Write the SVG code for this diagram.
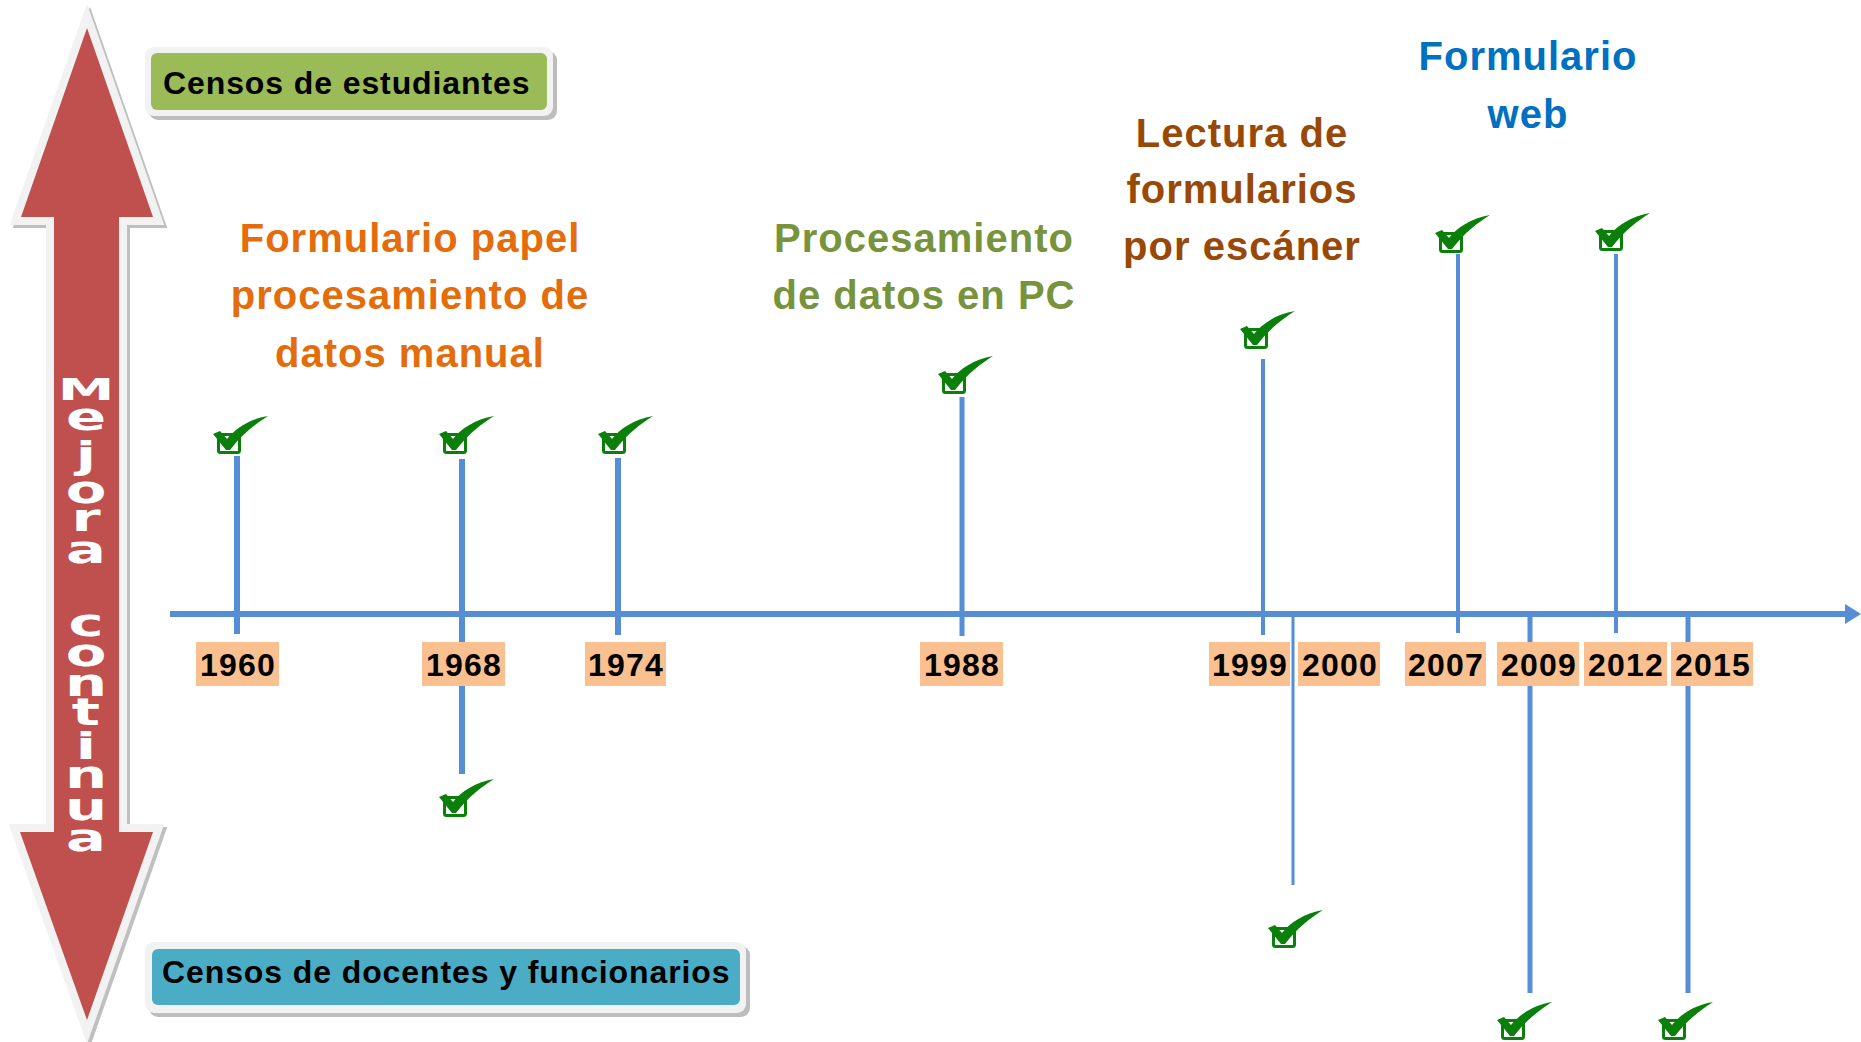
<svg xmlns="http://www.w3.org/2000/svg" xmlns:xlink="http://www.w3.org/1999/xlink" width="1861" height="1042" viewBox="0 0 1861 1042">
<style>
.title{font-family:"Liberation Sans",Arial,sans-serif;font-weight:bold;font-size:40px;letter-spacing:1px;text-anchor:middle}
.yr{font-family:"Liberation Sans",Arial,sans-serif;font-weight:bold;font-size:32px;letter-spacing:1.2px;text-anchor:middle;fill:#000}
.yrbox{fill:#FAC090}
.lbl{font-family:"Liberation Sans",Arial,sans-serif;font-weight:bold;font-size:32px;letter-spacing:0.9px;fill:#000}
.ln{stroke:#558ED5;fill:none}
.mj{font-family:"DejaVu Sans",Verdana,sans-serif;font-weight:bold;fill:#fff;text-anchor:middle}
</style>
<defs>
<g id="chk">
<rect x="1.5" y="1.5" width="21" height="18" rx="2" fill="none" stroke="#0A800A" stroke-width="3"/>
<path d="M -4,1 L 3,-2 L 10,6 C 18,-4 32,-14 51,-17 C 40,-10 26,0 13,17 L 9,17 Z" fill="#0A800A"/>
</g>
</defs>
<rect width="1861" height="1042" fill="#fff"/>

<g id="mejora-arrow">
<polygon points="87,28 153,217 119,217 119,832 153,832 87,1020 20,832 54,832 54,217 21,217" transform="translate(3,3)" fill="#BFBFBF" stroke="#BFBFBF" stroke-width="16" paint-order="stroke"/>
<polygon points="87,28 153,217 119,217 119,832 153,832 87,1020 20,832 54,832 54,217 21,217" fill="#C0504D" stroke="#F2F2F2" stroke-width="16" paint-order="stroke"/>
<text class="mj" font-size="30" transform="translate(86,400) scale(1.9,1)">M</text>
<text class="mj" font-size="37" transform="translate(86,0) scale(1.6,1)"><tspan x="0" y="430">e</tspan><tspan x="0" y="468">j</tspan><tspan x="0" y="503">o</tspan><tspan x="0" y="531">r</tspan><tspan x="0" y="563">a</tspan><tspan x="0" y="636">c</tspan><tspan x="0" y="666">o</tspan><tspan x="0" y="696">n</tspan><tspan x="0" y="725">t</tspan><tspan x="0" y="759">i</tspan><tspan x="0" y="788">n</tspan><tspan x="0" y="820">u</tspan><tspan x="0" y="851">a</tspan></text>
</g>

<g id="censos-estudiantes">
<rect x="149" y="51" width="408" height="69" rx="9" fill="#BDBDBD"/>
<rect x="145" y="47" width="408" height="69" rx="9" fill="#F2F2F2"/>
<rect x="151" y="53" width="396" height="57" rx="6" fill="#9BBB59"/>
<text class="lbl" x="163" y="94">Censos de estudiantes</text>
</g>

<g id="censos-docentes">
<rect x="149" y="946" width="601" height="71" rx="9" fill="#BDBDBD"/>
<rect x="145" y="942" width="601" height="71" rx="9" fill="#F2F2F2"/>
<rect x="152" y="949" width="588" height="56" rx="6" fill="#4BACC6"/>
<text class="lbl" x="162" y="983">Censos de docentes y funcionarios</text>
</g>

<g id="titles">
<text class="title" fill="#E46C0A"><tspan x="410" y="252">Formulario papel</tspan><tspan x="410" y="309">procesamiento de</tspan><tspan x="410" y="367">datos manual</tspan></text>
<text class="title" fill="#77933C"><tspan x="924" y="252">Procesamiento</tspan><tspan x="924" y="309">de datos en PC</tspan></text>
<text class="title" fill="#984807"><tspan x="1242" y="147">Lectura de</tspan><tspan x="1242" y="203">formularios</tspan><tspan x="1242" y="260">por escáner</tspan></text>
<text class="title" fill="#0070C0"><tspan x="1528" y="70">Formulario</tspan><tspan x="1528" y="128">web</tspan></text>
</g>

<g id="connectors">
<line class="ln" x1="170" y1="614" x2="1848" y2="614" stroke-width="6"/>
<polygon points="1845,604 1861,614 1845,624" fill="#558ED5"/>
<line class="ln" x1="237" y1="456" x2="237" y2="634" stroke-width="6"/>
<line class="ln" x1="462" y1="459" x2="462" y2="774" stroke-width="6"/>
<line class="ln" x1="618" y1="458" x2="618" y2="635" stroke-width="6"/>
<line class="ln" x1="962" y1="397" x2="962" y2="636" stroke-width="5"/>
<line class="ln" x1="1263" y1="359" x2="1263" y2="635" stroke-width="4"/>
<line class="ln" x1="1293" y1="617" x2="1293" y2="885" stroke-width="3"/>
<line class="ln" x1="1458" y1="254" x2="1458" y2="633" stroke-width="4"/>
<line class="ln" x1="1530" y1="617" x2="1530" y2="993" stroke-width="5"/>
<line class="ln" x1="1616" y1="254" x2="1616" y2="633" stroke-width="4"/>
<line class="ln" x1="1688" y1="617" x2="1688" y2="993" stroke-width="5"/>
</g>

<g id="y1960"><rect class="yrbox" x="196" y="642" width="83" height="44"/><text class="yr" x="238" y="676">1960</text></g>
<g id="y1968"><rect class="yrbox" x="422" y="642" width="83" height="44"/><text class="yr" x="464" y="676">1968</text></g>
<g id="y1974"><rect class="yrbox" x="585" y="642" width="81" height="44"/><text class="yr" x="626" y="676">1974</text></g>
<g id="y1988"><rect class="yrbox" x="920" y="642" width="83" height="44"/><text class="yr" x="962" y="676">1988</text></g>
<g id="y1999"><rect class="yrbox" x="1209" y="642" width="81" height="44"/><text class="yr" x="1250" y="676">1999</text></g>
<g id="y2000"><rect class="yrbox" x="1298" y="642" width="82" height="44"/><text class="yr" x="1340" y="676">2000</text></g>
<g id="y2007"><rect class="yrbox" x="1405" y="642" width="81" height="44"/><text class="yr" x="1446" y="676">2007</text></g>
<g id="y2009"><rect class="yrbox" x="1497" y="642" width="82" height="44"/><text class="yr" x="1539" y="676">2009</text></g>
<g id="y2012"><rect class="yrbox" x="1584" y="642" width="83" height="44"/><text class="yr" x="1626" y="676">2012</text></g>
<g id="y2015"><rect class="yrbox" x="1671" y="642" width="82" height="44"/><text class="yr" x="1713" y="676">2015</text></g>

<g id="checks">
<use xlink:href="#chk" x="217" y="433"/>
<use xlink:href="#chk" x="443" y="433"/>
<use xlink:href="#chk" x="602" y="433"/>
<use xlink:href="#chk" x="942" y="373"/>
<use xlink:href="#chk" x="1244" y="328"/>
<use xlink:href="#chk" x="1439" y="232"/>
<use xlink:href="#chk" x="1599" y="230"/>
<use xlink:href="#chk" x="443" y="796"/>
<use xlink:href="#chk" x="1272" y="927"/>
<use xlink:href="#chk" x="1501" y="1019"/>
<use xlink:href="#chk" x="1662" y="1019"/>
</g>
</svg>
